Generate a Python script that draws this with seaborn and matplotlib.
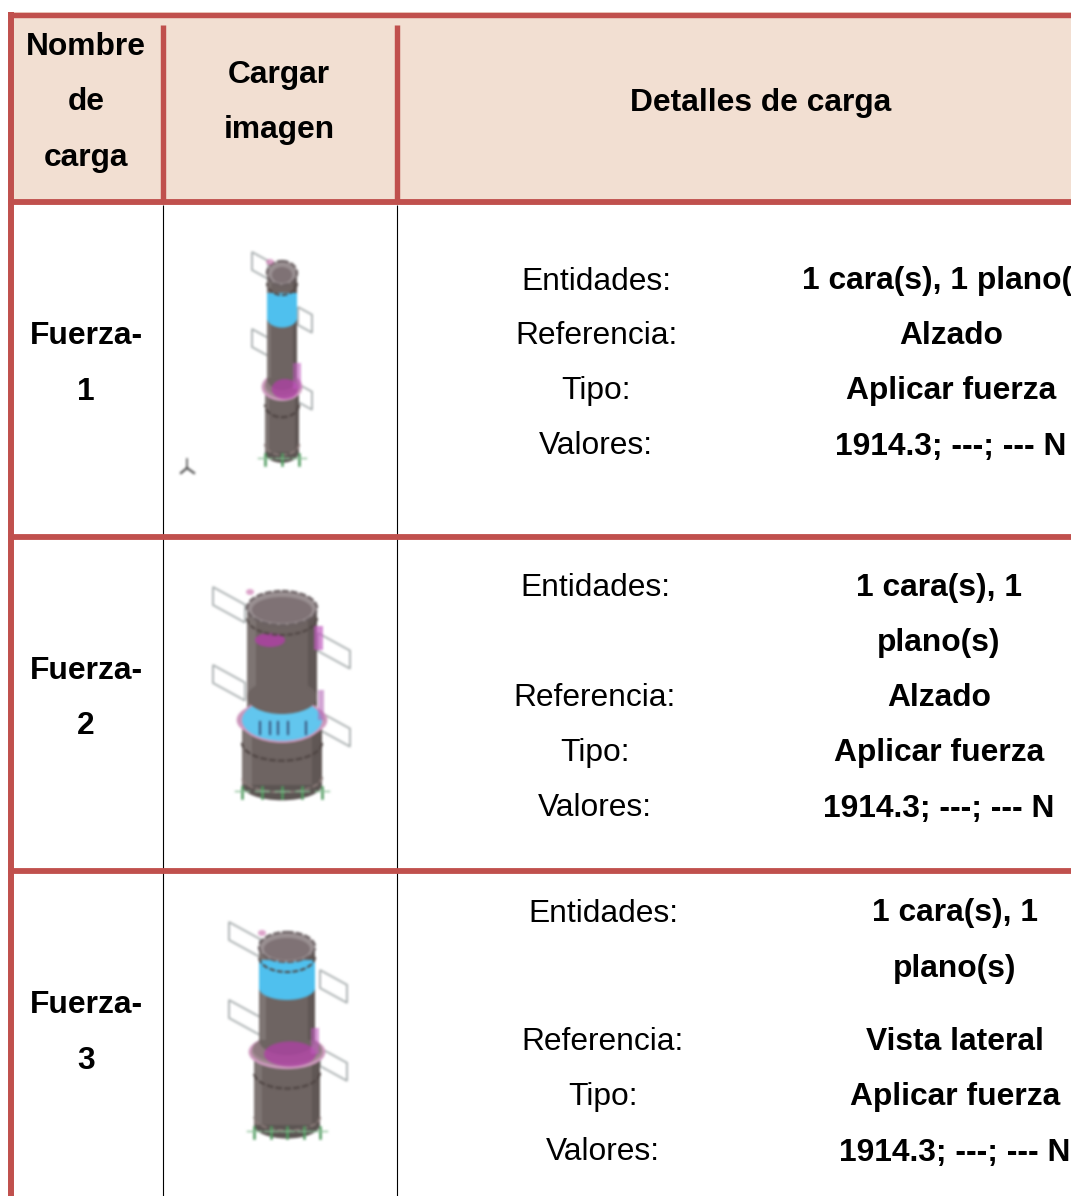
import numpy as np
import matplotlib
matplotlib.use('Agg')
import matplotlib.pyplot as plt
import seaborn as sns
from matplotlib.backends.backend_agg import FigureCanvasAgg
from matplotlib.colors import ListedColormap
from matplotlib.patches import Arc, Ellipse, Polygon, Rectangle

# table contents
header_names = ['Nombre\nde\ncarga', 'Cargar\nimagen', 'Detalles de carga']
load_names = ['Fuerza-\n1', 'Fuerza-\n2', 'Fuerza-\n3']
detail_labels = ['Entidades:', 'Referencia:', 'Tipo:', 'Valores:']
entities = ['1 cara(s), 1 plano(s)', '1 cara(s), 1\nplano(s)', '1 cara(s), 1\nplano(s)']
references = ['Alzado', 'Alzado', 'Vista lateral']
load_types = ['Aplicar fuerza', 'Aplicar fuerza', 'Aplicar fuerza']
load_values = ['1914.3; ---; --- N', '1914.3; ---; --- N', '1914.3; ---; --- N']

W, H = 1078, 1196
RED = '#c0504d'
HEAD = '#f2dfd2'
FONT = 'Liberation Sans'
FS = 22.9
LINE = 55.3
BASE = 10.5  # line centre to baseline

# text layout, pixels
header_pos = [(86, 100), (279, 100), (761, 100)]
name_y = [361.5, 696, 1030.5]
label_x = [596, 595, 603]
value_x = [951, 939, 955]
row_y = [[279, 334, 389, 444], [585, 696, 751, 806], [911, 1040, 1095, 1150]]
entity_y = [279, 613, 938.5]

# illustration layout
pillars = [
    dict(cx=282, top=273, rx=15, ry=12, up=378, col=387, crx=19, lrx=17, bot=452, band=(293, 318, 'upper'),
         pl=(252, 268, 252, 18, 298, 312, 307), dy=77, feet=3),
    dict(cx=282, top=608, rx=35, ry=17, up=705, col=720, crx=44, lrx=40, bot=785, band=(700, 738, 'collar'),
         pl=(213, 245, 587, 18, 318, 350, 633), dy=78, feet=5),
    dict(cx=287, top=947, rx=28, ry=15, up=1040, col=1052, crx=37, lrx=33, bot=1125, band=(960, 988, 'upper'),
         pl=(229, 260, 922, 18, 320, 347, 970), dy=78, feet=5),
]


def draw_pillar(ax, p):
    cx, top, rx, ry = p['cx'], p['top'], p['rx'], p['ry']
    x0, x1, y0, h, x2, x3, y2 = p['pl']
    plane = '#a9afb0'
    slope = 0.55
    for k in range(2):
        off = k * p['dy']
        ax.add_patch(Polygon([(x0, y0 + off), (x1, y0 + off + (x1 - x0) * slope),
                              (x1, y0 + off + (x1 - x0) * slope + h), (x0, y0 + off + h)],
                             fc='none', ec=plane, lw=1.3))
        ax.add_patch(Polygon([(x2, y2 + off), (x3, y2 + off + (x3 - x2) * slope),
                              (x3, y2 + off + (x3 - x2) * slope + h), (x2, y2 + off + h)],
                             fc='none', ec=plane, lw=1.3))
    body = '#6e6462'
    dash = '#4f4543'
    lrx, crx, col = p['lrx'], p['crx'], p['col']
    cry = ry * 1.05
    # feet
    for fx in np.linspace(cx - lrx, cx + lrx, p['feet']):
        ax.plot([fx, fx], [p['bot'] + 2, p['bot'] + 13], color='#4f9a5e', lw=1.8)
        ax.plot([fx - 7, fx + 7], [p['bot'] + 6, p['bot'] + 6], color='#8cc097', lw=1.0)
    # lower body
    ax.add_patch(Ellipse((cx, p['bot']), 2 * lrx, 2 * ry * 0.9, fc='#5c5553', ec='none'))
    ax.add_patch(Rectangle((cx - lrx, col), 2 * lrx, p['bot'] - col, fc=body, ec='none'))
    ax.add_patch(Rectangle((cx - lrx, col), lrx * 0.25, p['bot'] - col, fc='#8f8684', ec='none', alpha=.5))
    ax.add_patch(Rectangle((cx + lrx * 0.75, col), lrx * 0.25, p['bot'] - col, fc='#544c4a', ec='none', alpha=.5))
    ax.add_patch(Arc((cx, col + cry + 5), 2 * lrx, 2 * cry, theta1=0, theta2=180, ec=dash, lw=1.6, ls=(0, (3, 1))))
    ax.add_patch(Arc((cx, p['bot'] - 8), 2 * lrx, 2 * ry * 0.9, theta1=0, theta2=180, ec='#8a7a78', lw=1.5, ls=(0, (3, 1))))
    # collar
    ax.add_patch(Ellipse((cx, col), 2 * crx, 2 * cry, fc='#a48a94', ec='#d09ac0', lw=2))
    ax.add_patch(Ellipse((cx, col - 3), 2 * crx - 5, 2 * cry - 3, fc='#8f7a80', ec='none'))
    # upper body
    ax.add_patch(Rectangle((cx - rx, top), 2 * rx, p['up'] - top, fc=body, ec='none'))
    ax.add_patch(Ellipse((cx, p['up']), 2 * rx, 2 * ry, fc=body, ec='none'))
    ax.add_patch(Rectangle((cx - rx, top), rx * 0.25, p['up'] - top, fc='#8f8684', ec='none', alpha=.5))
    ax.add_patch(Rectangle((cx + rx * 0.75, top), rx * 0.25, p['up'] - top, fc='#544c4a', ec='none', alpha=.5))
    b0, b1, where = p['band']
    if where == 'upper':
        ax.add_patch(Rectangle((cx - rx, b0), 2 * rx, b1 - b0, fc='#4fc0ee', ec='none'))
        ax.add_patch(Ellipse((cx, b1), 2 * rx, 2 * ry * 0.8, fc='#4fc0ee', ec='none'))
        ax.add_patch(Ellipse((cx + 3, col + 2), 2 * crx * 0.7, 2 * cry * 0.8, fc='#b23fa8', ec='none', alpha=.75))
        ax.add_patch(Rectangle((cx + rx - 4, col - 24), 8, 26, fc='#c25bc0', ec='none', alpha=.6))
    else:
        ax.add_patch(Ellipse((cx, col), 2 * crx - 6, 2 * cry + 8, fc='#62c6ee', ec='#d09ac0', lw=1.5))
        ax.add_patch(Ellipse((cx, p['up'] - 8), 2 * rx, 2 * ry, fc=body, ec='none'))
        ax.add_patch(Ellipse((cx - 12, top + 32), 30, 14, fc='#b23fa8', ec='none', alpha=.8))
        ax.add_patch(Rectangle((cx + rx - 3, top + 18), 9, 24, fc='#c25bc0', ec='none', alpha=.7))
        ax.add_patch(Rectangle((cx + rx + 1, col - 30), 6, 30, fc='#b56ab8', ec='none', alpha=.6))
        for dx in [-22, -12, -4, 6, 24]:
            ax.plot([cx + dx, cx + dx], [col + 2, col + 14], color='#3d5f86', lw=1.6)
    # dashed rim below the mouth
    ax.add_patch(Arc((cx, top + 10), 2 * rx, 2 * ry, theta1=0, theta2=180, ec=dash, lw=1.4, ls=(0, (3, 1))))
    # mouth
    ax.add_patch(Ellipse((cx, top), 2 * rx, 2 * ry, fc='#9a9092', ec='#6a6062', lw=1.6, ls=(0, (3, 1))))
    ax.add_patch(Ellipse((cx, top + 2), 2 * rx - 10, 2 * ry - 8, fc='#7f7275', ec='none'))
    ax.add_patch(Ellipse((cx - rx + 3, top - ry + 1), 8, 6, fc='#cf7fb5', ec='none', alpha=.7))


def render_pictures():
    # drawn apart then softened, the originals are blurry scans
    f = plt.figure(figsize=(W / 100, H / 100), dpi=100, facecolor='white')
    FigureCanvasAgg(f)
    a = f.add_axes([0, 0, 1, 1])
    a.set_xlim(0, W)
    a.set_ylim(H, 0)
    a.axis('off')
    for p in pillars:
        draw_pillar(a, p)
    a.plot([187, 187], [459, 468], color='#555555', lw=1.2)
    a.plot([187, 181], [468, 473], color='#555555', lw=1.6)
    a.plot([187, 194], [468, 473], color='#555555', lw=1.6)
    f.canvas.draw()
    img = 255.0 - np.asarray(f.canvas.buffer_rgba())[:, :, :3].astype(float)
    plt.close(f)
    kernel = np.array([1, 2, 3, 2, 1]) / 9
    img = np.apply_along_axis(lambda v: np.convolve(v, kernel, mode='same'), 0, img)
    img = np.apply_along_axis(lambda v: np.convolve(v, kernel, mode='same'), 1, img)
    return (255.0 - img).clip(0, 255).astype(np.uint8)


pictures = render_pictures()

sns.set_theme(style='white')
plt.rcParams['font.family'] = [FONT, 'DejaVu Sans']

fig = plt.figure(figsize=(W / 100, H / 100), dpi=100, facecolor='white')

# picture layer
pic_ax = fig.add_axes([0, 0, 1, 1])
pic_ax.imshow(pictures, extent=(0, W, H, 0), aspect='auto', interpolation='nearest')
pic_ax.axis('off')

# header band, one cell
head_ax = fig.add_axes([8 / W, 1 - 205 / H, (1071 - 8) / W, (205 - 12) / H])
sns.heatmap(np.zeros((1, 1)), cmap=ListedColormap([HEAD]), cbar=False, xticklabels=False,
            yticklabels=False, ax=head_ax)

# overlay for rules and text, stops where the table is cut off
ax = fig.add_axes([0, 0, 1071 / W, 1], facecolor='none')
ax.set_xlim(0, 1071)
ax.set_ylim(H, 0)
ax.axis('off')

for x_thin, x_red in [(162.5, 163), (396.5, 397)]:
    ax.plot([x_thin, x_thin], [205, H], color='black', lw=0.8, solid_capstyle='butt')
    ax.plot([x_red, x_red], [25, 200], color=RED, lw=3.9, solid_capstyle='butt')
ax.plot([11, 11], [12, H], color=RED, lw=4.3, solid_capstyle='butt')
for y, lw in [(14.5, 3.9), (202, 4.2), (537, 4.2), (871, 4.2)]:
    ax.plot([8, 1071], [y, y], color=RED, lw=lw, solid_capstyle='butt')


def put(x, y, s, bold=False):
    ax.text(x, y + BASE, s, ha='center', va='baseline', fontsize=FS, color='black', family=[FONT, 'DejaVu Sans'],
            fontweight='bold' if bold else 'normal', clip_on=True)


def put_lines(x, y, s):
    # word-style fixed line pitch
    parts = s.split('\n')
    start = y - (len(parts) - 1) * LINE / 2
    for i, part in enumerate(parts):
        put(x, start + i * LINE, part, bold=True)


for (x, y), name in zip(header_pos, header_names):
    put_lines(x, y, name)

for i in range(3):
    put_lines(86, name_y[i], load_names[i])
    for lab, y in zip(detail_labels, row_y[i]):
        put(label_x[i], y, lab)
    put_lines(value_x[i], entity_y[i], entities[i])
    put(value_x[i], row_y[i][1], references[i], bold=True)
    put(value_x[i], row_y[i][2], load_types[i], bold=True)
    put(value_x[i], row_y[i][3], load_values[i], bold=True)

fig.savefig('out.png', dpi=100, facecolor='white')
